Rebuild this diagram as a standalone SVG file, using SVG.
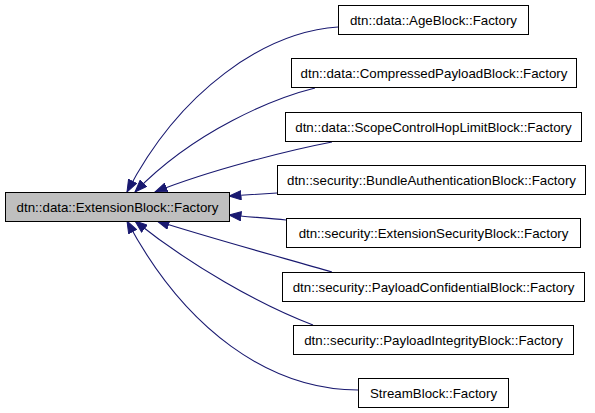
<svg xmlns="http://www.w3.org/2000/svg" width="595" height="413" viewBox="0 0 595 413">
<style>
.box{fill:#ffffff;stroke:#000000;stroke-width:1}
.base{fill:#bfbfbf;stroke:#000000;stroke-width:1}
.lbl{font-family:"Liberation Sans",Arial,sans-serif;font-size:13.3px;fill:#000000;text-anchor:middle}
.edge{fill:none;stroke:#191970;stroke-width:1.1;marker-end:url(#arr)}
</style>
<defs>
<marker id="arr" markerWidth="13" markerHeight="10" refX="12.5" refY="5" orient="auto" markerUnits="userSpaceOnUse">
<path d="M0.5,0.5 L12.5,5 L0.5,9.5 z" fill="#191970" stroke="#191970" stroke-width="1"/>
</marker>
</defs>
<rect width="595" height="413" fill="#ffffff"/>
<g id="connectors">
<path class="edge" d="M338,27 C265,32 180,90 127,192"/>
<path class="edge" d="M315,88 C275,98 195,130 135,192"/>
<path class="edge" d="M332,142 C290,150 210,170 155,192"/>
<path class="edge" d="M277,193 C260,194 245,195 229,196"/>
<path class="edge" d="M286,220 C268,218 248,217 229,215"/>
<path class="edge" d="M332,272 C280,257 210,238 157,221"/>
<path class="edge" d="M313,325 C260,305 190,265 135,221"/>
<path class="edge" d="M358,390 C270,390 185,330 127,221"/>
</g>
<g id="node-base">
<rect class="base" x="5.5" y="192.5" width="224" height="29"/>
<text class="lbl" x="117.5" y="211.5">dtn::data::ExtensionBlock::Factory</text>
</g>
<g id="node-age">
<rect class="box" x="338.5" y="5.5" width="190" height="29"/>
<text class="lbl" x="433.5" y="24.5">dtn::data::AgeBlock::Factory</text>
</g>
<g id="node-compressed">
<rect class="box" x="291.5" y="58.5" width="285" height="29"/>
<text class="lbl" x="434" y="77.5">dtn::data::CompressedPayloadBlock::Factory</text>
</g>
<g id="node-scope">
<rect class="box" x="285.5" y="112.5" width="296" height="29"/>
<text class="lbl" x="433.5" y="131.5">dtn::data::ScopeControlHopLimitBlock::Factory</text>
</g>
<g id="node-bundleauth">
<rect class="box" x="277.5" y="165.5" width="308" height="29"/>
<text class="lbl" x="431.5" y="184.5">dtn::security::BundleAuthenticationBlock::Factory</text>
</g>
<g id="node-extsec">
<rect class="box" x="286.5" y="218.5" width="294" height="29"/>
<text class="lbl" x="433.5" y="237.5">dtn::security::ExtensionSecurityBlock::Factory</text>
</g>
<g id="node-payconf">
<rect class="box" x="282.5" y="272.5" width="302" height="29"/>
<text class="lbl" x="433.5" y="291.5">dtn::security::PayloadConfidentialBlock::Factory</text>
</g>
<g id="node-payint">
<rect class="box" x="293.5" y="325.5" width="280" height="29"/>
<text class="lbl" x="433.5" y="344.5">dtn::security::PayloadIntegrityBlock::Factory</text>
</g>
<g id="node-stream">
<rect class="box" x="358.5" y="378.5" width="150" height="29"/>
<text class="lbl" x="433.5" y="397.5">StreamBlock::Factory</text>
</g>
</svg>
